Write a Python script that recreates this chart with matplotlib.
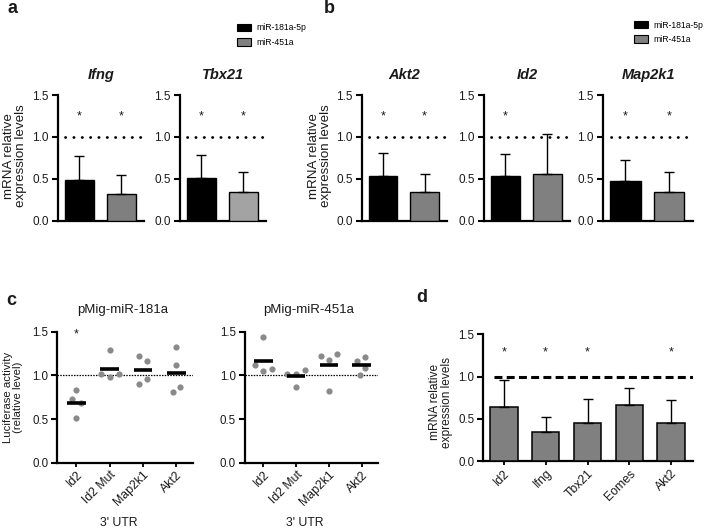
import numpy as np
import matplotlib
matplotlib.use("Agg")
import matplotlib.pyplot as plt
from matplotlib.patches import Patch

plt.rcParams['font.family'] = ['Liberation Sans', 'DejaVu Sans']

# ---------------- data ----------------
legend_labels = ['miR-181a-5p', 'miR-451a']

# panel a
a_genes = ['Ifng', 'Tbx21']
a_mir181_mean = [0.49, 0.51]
a_mir181_sd = [0.28, 0.27]
a_mir451_mean = [0.32, 0.34]
a_mir451_sd = [0.23, 0.24]
a_star181 = [True, True]
a_star451 = [True, True]

# panel b
b_genes = ['Akt2', 'Id2', 'Map2k1']
b_mir181_mean = [0.53, 0.53, 0.47]
b_mir181_sd = [0.28, 0.27, 0.26]
b_mir451_mean = [0.34, 0.56, 0.34]
b_mir451_sd = [0.22, 0.48, 0.24]
b_star181 = [True, True, True]
b_star451 = [True, False, True]

# panel c
c_categories = ['Id2', 'Id2 Mut', 'Map2k1', 'Akt2']
c_titles = ['pMig-miR-181a', 'pMig-miR-451a']
c181_values = [[0.83, 0.73, 0.68, 0.515],
               [0.985, 1.02, 1.015, 1.29],
               [1.17, 1.22, 0.96, 0.905],
               [1.32, 1.115, 0.87, 0.805]]
c451_values = [[1.05, 1.12, 1.07, 1.44],
               [1.01, 1.015, 1.06, 0.87],
               [1.18, 1.22, 1.25, 0.82],
               [1.21, 1.16, 1.09, 1.00]]
c181_star = [True, False, False, False]
c451_star = [False, False, False, False]

# panel d
d_genes = ['Id2', 'Ifng', 'Tbx21', 'Eomes', 'Akt2']
d_mean = [0.64, 0.345, 0.445, 0.66, 0.445]
d_sd = [0.32, 0.18, 0.29, 0.21, 0.28]
d_star = [True, True, True, False, True]

# ---------------- layout helpers ----------------
W, H = 706, 529
fig = plt.figure(figsize=(W / 100, H / 100), dpi=100)
TXT = '#1a1a1a'


def add_ax(x0, x1, ytop, ybot):
    return fig.add_axes([x0 / W, 1 - ybot / H, (x1 - x0) / W, (ybot - ytop) / H])


def style_axes(ax, xticks=False, ysize=8.5):
    for s in ['top', 'right']:
        ax.spines[s].set_visible(False)
    for s in ['left', 'bottom']:
        ax.spines[s].set_linewidth(1.6)
    ax.set_ylim(0, 1.5)
    ax.set_yticks([0, 0.5, 1.0, 1.5])
    ax.set_yticklabels(['0.0', '0.5', '1.0', '1.5'])
    ax.tick_params(axis='y', direction='out', length=4, width=1.5,
                   labelsize=ysize, pad=2.5, labelcolor=TXT)
    if xticks:
        ax.tick_params(axis='x', direction='out', length=3, width=1.3,
                       labelsize=8.8, pad=1.5, labelcolor=TXT)
    else:
        ax.tick_params(axis='x', length=0, labelbottom=False)


def fig_text(x, y, s, **kw):
    fig.text(x / W, 1 - y / H, s, **kw)


def bar_pair(ax, title, m1, s1, m2, s2, st1, st2, gray):
    x = np.arange(2)
    ax.bar(x, [m1, m2], width=0.69, color=['black', gray], edgecolor='black',
           linewidth=1.0, yerr=[[0, 0], [s1, s2]], capsize=3.5,
           error_kw=dict(elinewidth=1.0, capthick=1.0, ecolor='black'), zorder=3)
    ax.set_xlim(-0.51, 1.54)
    ax.axhline(1.0, xmin=0.085, xmax=1.0, color='black', lw=2.0,
               linestyle=(0, (0.1, 2.9)), dash_capstyle='round', zorder=2)
    for xi, st in zip(x, [st1, st2]):
        if st:
            ax.text(xi, 1.25, '*', ha='center', va='center', fontsize=9, color=TXT)
    style_axes(ax)
    ax.set_title(title, fontstyle='italic', fontweight='bold', fontsize=10.5,
                 pad=11.5, color=TXT)


# ---------------- panel a ----------------
a_boxes = [(58, 144), (180, 266)]
a_grays = ['#7f7f7f', '#a3a3a3']
for i, g in enumerate(a_genes):
    ax = add_ax(a_boxes[i][0], a_boxes[i][1], 95, 220.7)
    bar_pair(ax, g, a_mir181_mean[i], a_mir181_sd[i], a_mir451_mean[i],
             a_mir451_sd[i], a_star181[i], a_star451[i], a_grays[i])

fig_text(15, 156, 'mRNA relative\nexpression levels', rotation=90, ha='center',
         va='center', fontsize=9.6, linespacing=0.92, color=TXT)

# ---------------- panel b ----------------
b_boxes = [(362, 447), (484, 570), (603, 693)]
for i, g in enumerate(b_genes):
    ax = add_ax(b_boxes[i][0], b_boxes[i][1], 95, 220.7)
    bar_pair(ax, g, b_mir181_mean[i], b_mir181_sd[i], b_mir451_mean[i],
             b_mir451_sd[i], b_star181[i], b_star451[i], '#808080')

fig_text(320, 156, 'mRNA relative\nexpression levels', rotation=90, ha='center',
         va='center', fontsize=9.6, linespacing=0.92, color=TXT)

# legends
handles = [Patch(facecolor='black', edgecolor='black', lw=0.8),
           Patch(facecolor='#808080', edgecolor='black', lw=0.8)]
for (lx, ly) in [(237, 23.5), (634, 20.5)]:
    fig.legend(handles=handles, labels=legend_labels, loc='upper left',
               bbox_to_anchor=(lx / W, 1 - ly / H), frameon=False, fontsize=6.2,
               handlelength=1.6, handleheight=0.98, handletextpad=0.6,
               labelspacing=0.65, borderpad=0, borderaxespad=0)

# ---------------- panel c ----------------


def swarm_offsets(groups, ax, diam=9.5):
    xlo, xhi = ax.get_xlim()
    ylo, yhi = ax.get_ylim()
    sx = ax.bbox.width / (xhi - xlo)
    sy = ax.bbox.height / (yhi - ylo)
    out = []
    for vals in groups:
        ys = [v * sy for v in vals]
        xs = []
        for k, y in enumerate(ys):
            ivs = []
            for j in range(k):
                dy = abs(ys[j] - y)
                if dy < diam:
                    h = np.sqrt(diam ** 2 - dy ** 2)
                    ivs.append((xs[j] - h, xs[j] + h))
            cands = [0.0] + [e for iv in ivs for e in iv]
            cands.sort(key=lambda c: (round(abs(c), 9), c))
            pos = 0.0
            for c in cands:
                if all(not (lo + 1e-9 < c < hi - 1e-9) for lo, hi in ivs):
                    pos = c
                    break
            xs.append(pos)
        # centre each connected cluster
        n = len(ys)
        comp = list(range(n))

        def find(a):
            while comp[a] != a:
                a = comp[a]
            return a
        for a in range(n):
            for b in range(a + 1, n):
                if abs(ys[a] - ys[b]) < diam:
                    comp[find(a)] = find(b)
        xs = np.array(xs)
        roots = [find(a) for a in range(n)]
        for r in set(roots):
            idx = [a for a in range(n) if roots[a] == r]
            xs[idx] -= xs[idx].mean()
        out.append(xs / sx)
    return out


c_boxes = [(57.5, 193), (245, 378)]
c_title_x = [122.5, 309]
for p, (vals_all, stars) in enumerate([(c181_values, c181_star), (c451_values, c451_star)]):
    ax = add_ax(c_boxes[p][0], c_boxes[p][1], 331.7, 462.7)
    ax.set_xlim(-0.56, 3.5)
    style_axes(ax, xticks=True, ysize=8.3)
    ax.axhline(1.0, color='black', lw=0.9, linestyle=(0, (1.2, 1.0)), zorder=1)
    offs = swarm_offsets(vals_all, ax)
    for i, vals in enumerate(vals_all):
        ax.scatter(i + offs[i], vals, s=20, color='#8a8a8a', linewidths=0, zorder=3)
        ax.hlines(np.mean(vals), i - 0.28, i + 0.28, color='black', lw=2.6, zorder=4)
        if stars[i]:
            ax.text(i, 1.47, '*', ha='center', va='center', fontsize=9, color=TXT)
    ax.set_xticks(range(len(c_categories)))
    ax.set_xticklabels(c_categories, rotation=45, ha='right', rotation_mode='anchor')
    fig_text(c_title_x[p], 313, c_titles[p], ha='center', va='baseline',
             fontsize=9.5, color=TXT)
    fig_text(c_title_x[p] - 4, 523, "3' UTR", ha='center', va='center',
             fontsize=8.8, color=TXT)

fig_text(13, 397, 'Luciferase activity\n(relative level)', rotation=90, ha='center',
         va='center', fontsize=8.2, linespacing=0.9, color=TXT)

# ---------------- panel d ----------------
ax = add_ax(483.3, 693, 334.3, 461)
x = np.arange(len(d_genes))
ax.bar(x, d_mean, width=0.66, color='#808080', edgecolor='black', linewidth=1.1,
       yerr=[np.zeros(len(d_sd)), d_sd], capsize=3.5,
       error_kw=dict(elinewidth=1.0, capthick=1.0, ecolor='black'), zorder=3)
ax.set_xlim(-0.49, 4.52)
ax.axhline(1.0, xmin=0.05, xmax=1.0, color='black', lw=2.2,
           linestyle=(0, (2.6, 1.4)), zorder=2)
for xi, st in zip(x, d_star):
    if st:
        ax.text(xi, 1.28, '*', ha='center', va='center', fontsize=9, color=TXT)
style_axes(ax, xticks=True, ysize=8.3)
ax.set_xticks(x)
ax.set_xticklabels(d_genes, rotation=45, ha='right', rotation_mode='anchor')
fig_text(441, 402, 'mRNA relative\nexpression levels', rotation=90, ha='center',
         va='center', fontsize=8.6, linespacing=0.95, color=TXT)

# ---------------- panel letters ----------------
for lab, (lx, ly) in zip('abcd', [(12, 13), (329, 13), (11, 305), (422, 302)]):
    fig_text(lx, ly, lab, ha='center', va='baseline', fontsize=13,
             fontweight='bold', color=TXT)

fig.savefig('out.png', dpi=100)
